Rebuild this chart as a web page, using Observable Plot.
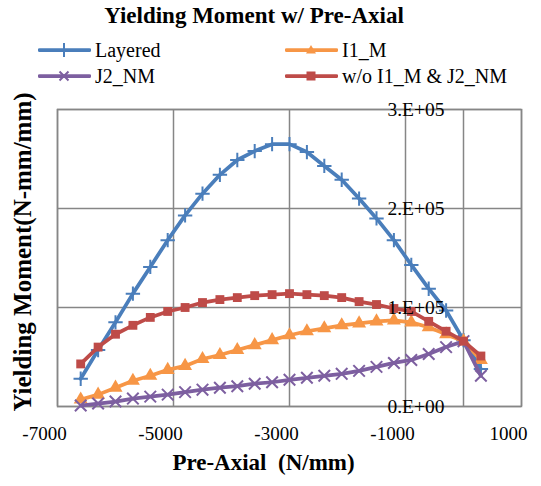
<!DOCTYPE html>
<html>
<head>
<meta charset="utf-8">
<script src="https://cdn.jsdelivr.net/npm/d3@7"></script>
<script src="https://cdn.jsdelivr.net/npm/@observablehq/plot@0.6"></script>
<style>
  body { margin: 0; background: #fff; font-family: "Liberation Serif", "Times New Roman", serif; }
  #wrap { width: 541px; position: relative; }
  #header { position: relative; height: 92px; }
  #title { position: absolute; left: 0; top: 2px; width: 508px; text-align: center; font-weight: bold; font-size: 23px; line-height: 28px; }
  .leg { position: absolute; display: flex; align-items: center; font-size: 20px; line-height: 24px; white-space: pre; }
  .leg svg { display: block; margin-right: 4px; }
  #chart svg { overflow: visible; position: relative; }
  svg text { white-space: pre; }
</style>
</head>
<body>
<div id="wrap">
  <div id="header"><div id="title"></div></div>
  <div id="chart"></div>
</div>
<script>
// ---- data ----
const xValues = [-6600,-6300,-6000,-5700,-5400,-5100,-4800,-4500,-4200,-3900,-3600,-3300,-3000,-2700,-2400,-2100,-1800,-1500,-1200,-900,-600,-300,0,300];
const layered = [28000,57000,85000,114000,141000,168000,193000,215000,234000,249000,258000,265000,265000,257000,243000,229000,210000,190000,168000,143000,119000,97000,67000,38000];
const i1m = [7000,12000,19000,26000,31000,37000,41000,48000,52000,57000,62000,67000,72000,76000,79000,82000,84000,86000,87000,85000,80000,73000,66000,47000];
const j2nm = [1000,3000,5000,8000,10000,12000,14500,17000,19000,20500,23000,24500,27000,29000,31000,33000,36000,40000,44000,47000,53000,60000,66000,31000];
const woI1J2 = [43000,60000,73000,82000,90000,96000,100000,105000,108000,110000,112000,113000,114000,113000,112000,110000,106000,103000,99000,96000,86000,76000,66000,51000];

const seriesNames = ["Layered","I1_M","J2_NM","w/o I1_M & J2_NM"];
const xTicks = [-7000,-5000,-3000,-1000,1000];
const yTicks = [0,100000,200000,300000];
const yTickLabels = ["0.E+00","1.E+05","2.E+05","3.E+05"];
const titleText = "Yielding Moment w/ Pre-Axial";
const xTitle = "Pre-Axial  (N/mm)";
const yTitle = "Yielding Moment(N-mm/mm)";

const colors = {Layered:"#4a7ebb", "I1_M":"#f79646", "J2_NM":"#7d5fa0", "w/o I1_M & J2_NM":"#be4b48"};
const gridColor = "#868686";

// ---- header ----
document.getElementById("title").textContent = titleText;
const header = document.getElementById("header");
const legendPos = [
  {name:"Layered", left:38, top:38},
  {name:"I1_M", left:285, top:38},
  {name:"J2_NM", left:38, top:64},
  {name:"w/o I1_M & J2_NM", left:285, top:64}
];
function markerSvg(name){
  const c = colors[name];
  let m = "";
  if (name === "Layered") m = `<path d="M26,5V19M19,12H33" stroke="${c}" stroke-width="2"/>`;
  else if (name === "I1_M") m = `<path d="M26,7L31,15.5H21Z" fill="${c}"/>`;
  else if (name === "J2_NM") m = `<path d="M21.5,7.5L30.5,16.5M30.5,7.5L21.5,16.5" stroke="${c}" stroke-width="2"/>`;
  else m = `<rect x="21.5" y="7.5" width="9" height="9" fill="${c}"/>`;
  return `<svg width="53" height="24"><line x1="1.5" y1="12" x2="51.5" y2="12" stroke="${c}" stroke-width="3.75" stroke-linecap="round"/>${m}</svg>`;
}
for (const p of legendPos){
  const d = document.createElement("div");
  d.className = "leg";
  d.style.left = p.left + "px";
  d.style.top = p.top + "px";
  d.innerHTML = markerSvg(p.name) + "<span></span>";
  d.querySelector("span").textContent = p.name;
  header.appendChild(d);
}

// ---- chart ----
const seriesData = [
  {name:"Layered", values: layered, symbol:"plus", r:4.7, fill:"none", sw:2},
  {name:"I1_M", values: i1m, symbol:"triangle", r:5.2, fill:"fill", sw:0},
  {name:"J2_NM", values: j2nm, symbol:"times", r:5.3, fill:"none", sw:2},
  {name:"w/o I1_M & J2_NM", values: woI1J2, symbol:"square", r:5, fill:"fill", sw:0}
];

const marks = [
  Plot.gridX(xTicks, {stroke: gridColor, strokeOpacity: 1, strokeWidth: 1.5}),
  Plot.gridY(yTicks, {stroke: gridColor, strokeOpacity: 1, strokeWidth: 1.5}),
  Plot.ruleX([0], {stroke: gridColor, strokeWidth: 1.5}),
  Plot.frame({stroke: gridColor, strokeWidth: 1.5}),
  Plot.axisX(xTicks, {tickSize: 0, tickPadding: 20, tickFormat: d => String(d), fontSize: 19, dx: -13, label: null}),
  Plot.text([xTitle], {frameAnchor: "bottom", text: d => d, dy: 63, dx: -26, fontSize: 23, fontWeight: "bold"}),
  Plot.text([yTitle], {frameAnchor: "left", textAnchor: "middle", text: d => d, rotate: -90, dx: -35, dy: -6, fontSize: 25, fontWeight: "bold"})
];
for (const s of seriesData){
  const c = colors[s.name];
  marks.push(Plot.line(xValues, {x: d => d, y: (d, i) => s.values[i], stroke: c, strokeWidth: 3.75, strokeLinejoin: "round", strokeLinecap: "round"}));
  if (s.fill === "fill") {
    marks.push(Plot.dot(xValues, {x: d => d, y: (d, i) => s.values[i], symbol: s.symbol, r: s.r, fill: c, stroke: "none"}));
  } else {
    marks.push(Plot.dot(xValues, {x: d => d, y: (d, i) => s.values[i], symbol: s.symbol, r: s.r, fill: "none", stroke: c, strokeWidth: s.sw}));
  }
}
marks.push(Plot.text(yTicks, {x: d => 0, y: d => d, text: (d, i) => yTickLabels[i], textAnchor: "end", dx: -19, fontSize: 19.5}));

const chart = Plot.plot({
  width: 541,
  height: 394,
  marginTop: 17,
  marginBottom: 80,
  marginLeft: 57,
  marginRight: 20,
  x: {domain: [-7000, 1000]},
  y: {domain: [0, 300000], axis: null},
  style: {fontFamily: "'Liberation Serif', 'Times New Roman', serif", fontSize: "19px", color: "#000", background: "#fff", overflow: "visible"},
  marks
});
document.getElementById("chart").appendChild(chart);
</script>
</body>
</html>
